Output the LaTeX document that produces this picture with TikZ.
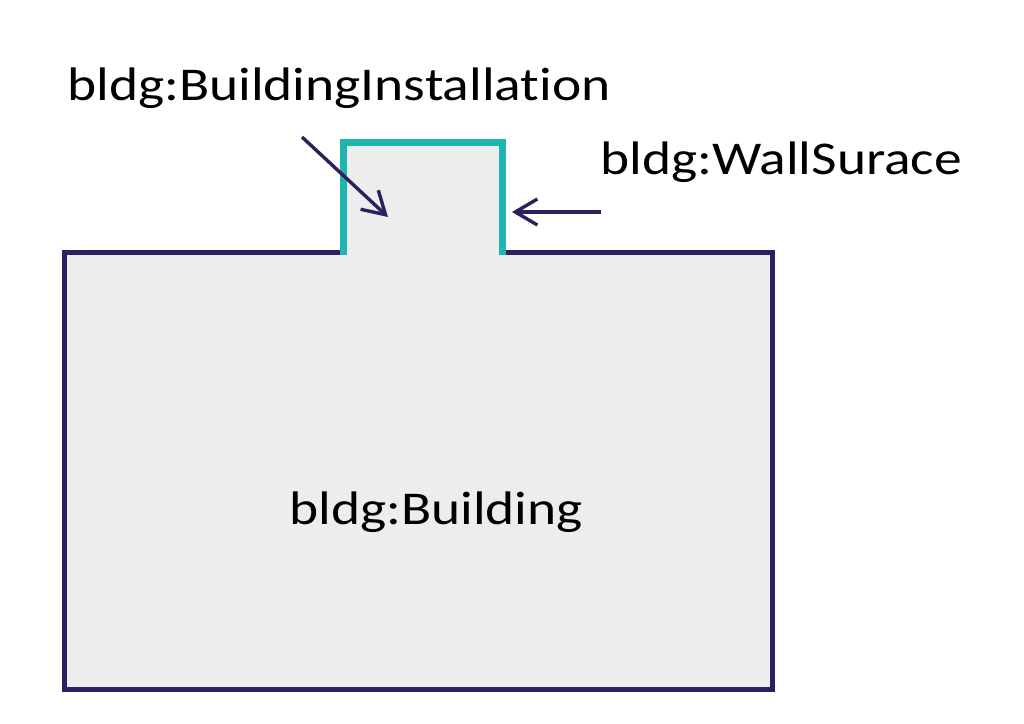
\documentclass[tikz,border=0pt]{standalone}
\usepackage{fontspec}
\usepackage{graphicx}
\setmainfont{Carlito}[Ligatures=NoCommon]
\usetikzlibrary{arrows.meta}
\definecolor{bpurple}{HTML}{2E1F5E}
\definecolor{bteal}{HTML}{1FB5B0}
\definecolor{bfill}{HTML}{ECEDED}
\tikzset{
  lbl/.style={anchor=base west, inner sep=0pt, font=\fontsize{47}{53}\selectfont, text=black},
  ptr/.style={draw=bpurple, line width=3.4pt, -{Straight Barb[length=22pt,width=26pt,line width=3.4pt]}},
}
\newcommand{\wide}[1]{\scalebox{1.18}[1]{#1}}
\begin{document}
\begin{tikzpicture}[x=1pt,y=-1pt]
\useasboundingbox (0,0) rectangle (1024,723);
% fill
\fill[bfill] (64,252) -- (343,252) -- (343,142) -- (502,142) -- (502,252) -- (772,252) -- (772,689) -- (64,689) -- cycle;
% building outline
\draw[bpurple, line width=5pt, line join=miter] (343,252) -- (64,252) -- (64,689) -- (772,689) -- (772,252) -- (502,252);
% installation outline
\draw[bteal, line width=7pt, line join=miter] (343,255) -- (343,142) -- (502,142) -- (502,255);
\coordinate (inst) at (388,217);
\coordinate (wall) at (512,212);
\node[lbl] (tinst) at (67,100) {\wide{bldg:BuildingInstallation}};
\node[lbl] (twall) at (600,174) {\wide{bldg:WallSurace}};
\node[lbl] (tbldg) at (289,524) {\wide{bldg:Building}};
\coordinate (s1) at (302,137);
\coordinate (s2) at (601,212);
\draw[ptr] (s1) -- (inst);
\draw[ptr] (s2) -- (wall);
\end{tikzpicture}
\end{document}
